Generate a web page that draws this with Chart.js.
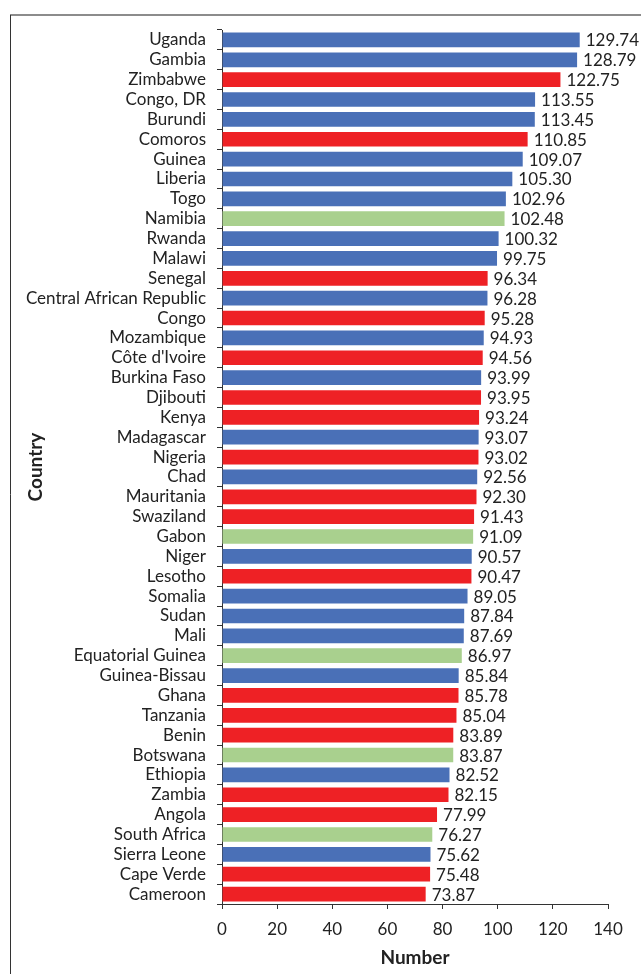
<!DOCTYPE html>
<html>
<head>
<meta charset="utf-8">
<script src="https://cdn.jsdelivr.net/npm/chart.js@4/dist/chart.umd.min.js"></script>
<style>
html,body{margin:0;padding:0;background:#fff;}
#c{display:block;}
</style>
</head>
<body>
<canvas id="c" width="641" height="974"></canvas>
<script>
const countries = ["Uganda","Gambia","Zimbabwe","Congo, DR","Burundi","Comoros","Guinea","Liberia","Togo","Namibia","Rwanda","Malawi","Senegal","Central African Republic","Congo","Mozambique","Côte d'Ivoire","Burkina Faso","Djibouti","Kenya","Madagascar","Nigeria","Chad","Mauritania","Swaziland","Gabon","Niger","Lesotho","Somalia","Sudan","Mali","Equatorial Guinea","Guinea-Bissau","Ghana","Tanzania","Benin","Botswana","Ethiopia","Zambia","Angola","South Africa","Sierra Leone","Cape Verde","Cameroon"];
const values = [129.74,128.79,122.75,113.55,113.45,110.85,109.07,105.30,102.96,102.48,100.32,99.75,96.34,96.28,95.28,94.93,94.56,93.99,93.95,93.24,93.07,93.02,92.56,92.30,91.43,91.09,90.57,90.47,89.05,87.84,87.69,86.97,85.84,85.78,85.04,83.89,83.87,82.52,82.15,77.99,76.27,75.62,75.48,73.87];
const groups = ["B","B","R","B","B","R","B","B","B","G","B","B","R","B","R","B","R","B","R","R","B","R","B","R","R","G","B","R","B","B","B","G","B","R","R","R","G","B","R","R","G","B","R","R"];
const xTicks = [0,20,40,60,80,100,120,140];
const groupColors = {B:"#4A70B7", R:"#EE2125", G:"#A9D08E"};

const FONT = "Lato";

const framePlugin = {
  id:"frame",
  beforeDraw(chart){
    const ctx = chart.ctx;
    ctx.save();
    ctx.fillStyle="#fff";
    ctx.fillRect(0,0,chart.width,chart.height);
    ctx.strokeStyle="#8c8c8c";
    ctx.lineWidth=2;
    ctx.beginPath();ctx.moveTo(10,15);ctx.lineTo(chart.width,15);ctx.stroke();
    ctx.strokeStyle="#333";
    ctx.lineWidth=1;
    ctx.beginPath();ctx.moveTo(10.5,15);ctx.lineTo(10.5,chart.height);ctx.stroke();
    ctx.restore();
  }
};
const labelPlugin = {
  id:"vlabels",
  afterDatasetsDraw(chart){
    const ctx = chart.ctx;
    const meta = chart.getDatasetMeta(0);
    ctx.save();
    ctx.font = "17px " + FONT;
    ctx.fillStyle="#222";
    ctx.textBaseline="middle";
    ctx.textAlign="left";
    meta.data.forEach((bar,i)=>{
      ctx.fillText(values[i].toFixed(2), bar.x+6, bar.y+1);
    });
    ctx.restore();
  }
};

new Chart(document.getElementById("c"),{
  type:"bar",
  data:{
    labels:countries,
    datasets:[{
      data:values,
      backgroundColor:groups.map(g=>groupColors[g]),
      barPercentage:0.74,
      categoryPercentage:1.0
    }]
  },
  options:{
    indexAxis:"y",
    responsive:false,
    animation:false,
    devicePixelRatio:1,
    layout:{padding:{top:30,left:24,right:33,bottom:5}},
    plugins:{legend:{display:false},tooltip:{enabled:false}},
    scales:{
      x:{
        min:0,max:140,
        afterBuildTicks(s){ s.ticks = xTicks.map(v=>({value:v})); },
        afterFit(s){ s.height = 974-904-5; },
        grid:{drawOnChartArea:false,drawTicks:true,tickLength:5,color:"#333"},
        border:{display:true,color:"#333",width:1},
        ticks:{font:{family:FONT,size:17},color:"#222",padding:10},
        title:{display:true,text:"Number",font:{family:FONT,size:19,weight:"bold"},color:"#222",padding:{top:4,bottom:0}}
      },
      y:{
        afterFit(s){ s.width = 222-24; },
        grid:{drawOnChartArea:false,drawTicks:true,tickLength:5,color:"#333",offset:true},
        border:{display:true,color:"#333",width:1},
        ticks:{font:{family:FONT,size:17},color:"#222",padding:11,autoSkip:false},
        title:{display:true,text:"Country",font:{family:FONT,size:19,weight:"bold"},color:"#222",padding:{top:0,bottom:0}}
      }
    }
  },
  plugins:[framePlugin,labelPlugin]
});
</script>
</body>
</html>
